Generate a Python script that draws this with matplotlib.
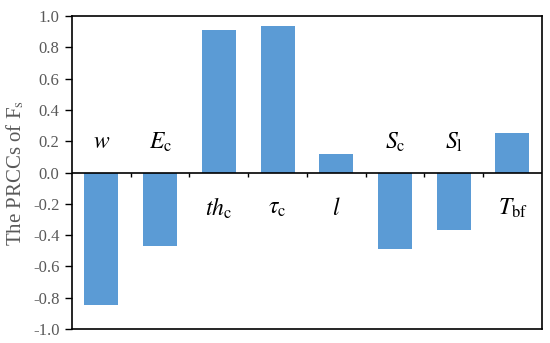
import matplotlib
matplotlib.use('Agg')

import matplotlib.pyplot as plt

params = [r'$w$', r'$E_{\rm c}$', r'$th_{\rm c}$', r'$\tau_{\rm c}$',
          r'$l$', r'$S_{\rm c}$', r'$S_{\rm l}$', r'$T_{\rm bf}$']
prcc = [-0.85, -0.47, 0.91, 0.94, 0.12, -0.49, -0.37, 0.25]
yticks = [-1.0, -0.8, -0.6, -0.4, -0.2, 0.0, 0.2, 0.4, 0.6, 0.8, 1.0]

plt.rcParams['font.family'] = ['Liberation Serif', 'DejaVu Serif']
plt.rcParams['mathtext.fontset'] = 'stix'

fig = plt.figure(figsize=(5.5, 3.43), dpi=100)
ax = fig.add_axes([0.131, 0.041, 0.854, 0.912])

x = list(range(len(prcc)))
ax.bar(x, prcc, width=0.58, color='#5B9BD5', zorder=2)
ax.axhline(0, color='black', lw=1.2, zorder=3)

# small downward ticks on the zero line between categories
bounds = [i + 0.5 for i in x[:-1]]
ax.vlines(bounds, -0.03, 0, color='black', lw=1.0, zorder=3)

for i, v in enumerate(prcc):
    ty = 0.19 if v < 0 else -0.23
    ax.text(i, ty, params[i], ha='center', va='center', fontsize=17)

ax.set_xlim(-0.5, len(prcc) - 0.5)
ax.set_ylim(-1.0, 1.0)
ax.set_xticks([])
ax.set_yticks(yticks)
ax.set_yticklabels(['%.1f' % t for t in yticks])
ax.tick_params(axis='y', direction='out', length=5, width=1.0,
               colors='black', labelcolor='#595959', labelsize=12, pad=4)
for s in ax.spines.values():
    s.set_linewidth(1.2)

ax.set_ylabel(r'The PRCCs of F$_{\rm s}$', fontsize=15, color='#595959',
              labelpad=5)

plt.savefig('out.png', dpi=100)
